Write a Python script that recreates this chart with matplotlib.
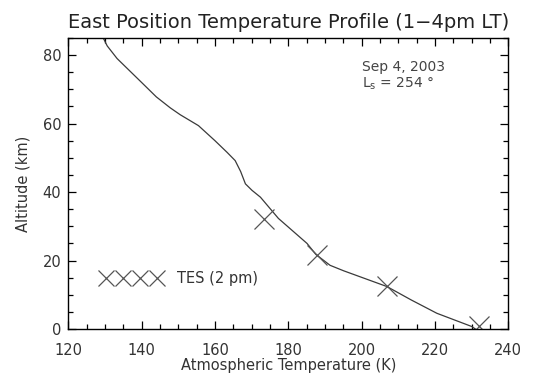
import matplotlib
matplotlib.use("Agg")
import matplotlib.pyplot as plt
from matplotlib.ticker import MultipleLocator

# model temperature profile (K vs km)
profile_temp = [129.3, 130.6, 133.3, 140.0, 144.0, 147.8, 150.5, 153.0, 155.5, 160.0, 163.3,
                165.5, 167.0, 168.3, 170.1, 172.4, 177.3, 185.1, 187.5, 191.4, 195.1,
                206.9, 213.5, 220.5, 230.1, 231.0]
profile_alt = [85.5, 82.7, 79.0, 72.0, 67.8, 64.6, 62.6, 61.0, 59.4, 55.0, 51.6,
               49.2, 46.0, 42.4, 40.5, 38.5, 32.3, 25.0, 21.8, 18.6, 17.0,
               12.4, 8.5, 4.6, 0.7, 0.0]

# TES retrievals (2 pm)
tes_temp = [173.3, 187.8, 206.9, 232.1]
tes_alt = [32.1, 21.7, 12.5, 0.9]

title = "East Position Temperature Profile (1\u22124pm LT)"
date_text = "Sep 4, 2003"
ls_text = "L$_{\\rm s}$ = 254 \u00b0"

fig = plt.figure(figsize=(5.35, 3.74), dpi=100)
ax = fig.add_axes([0.1277, 0.1203, 0.8224, 0.7781])

ax.plot(profile_temp, profile_alt, color="#3a3a3a", lw=0.9)
ax.plot(tes_temp, tes_alt, ls="none", marker="x", ms=14, mew=0.9,
        color="#555555", label="TES (2 pm)")

ax.set_xlim(120, 240)
ax.set_ylim(0, 85)
ax.xaxis.set_major_locator(MultipleLocator(20))
ax.xaxis.set_minor_locator(MultipleLocator(5))
ax.yaxis.set_major_locator(MultipleLocator(20))
ax.yaxis.set_minor_locator(MultipleLocator(5))
ax.tick_params(which="both", direction="in", top=True, right=True, width=0.9)
ax.tick_params(which="major", length=6)
ax.tick_params(which="minor", length=3.5)
ax.tick_params(axis="x", which="major", pad=10, labelsize=10.5, labelcolor="#333333")
ax.tick_params(axis="y", which="major", pad=5, labelsize=10.5, labelcolor="#333333")
for s in ax.spines.values():
    s.set_linewidth(1.0)

ax.set_xlabel("Atmospheric Temperature (K)", fontsize=10.5, color="#333333")
ax.set_ylabel("Altitude (km)", fontsize=10.5, color="#333333")
ax.xaxis.set_label_coords(0.5, -0.098)
ax.yaxis.set_label_coords(-0.087, 0.5)
ax.set_title(title, fontsize=14, color="#222222", pad=7)

ax.text(0.667, 0.885, date_text, transform=ax.transAxes, fontsize=10,
        color="#444444", va="baseline", ha="left")
ax.text(0.667, 0.830, ls_text, transform=ax.transAxes, fontsize=10,
        color="#444444", va="baseline", ha="left")

ax.legend(loc="center left", bbox_to_anchor=(0.0757, 0.172), numpoints=4,
          handlelength=4.1, handletextpad=1.1, markerscale=0.8, frameon=False,
          borderpad=0, borderaxespad=0, fontsize=10.5, labelcolor="#333333")

fig.savefig("out.png", dpi=100)
